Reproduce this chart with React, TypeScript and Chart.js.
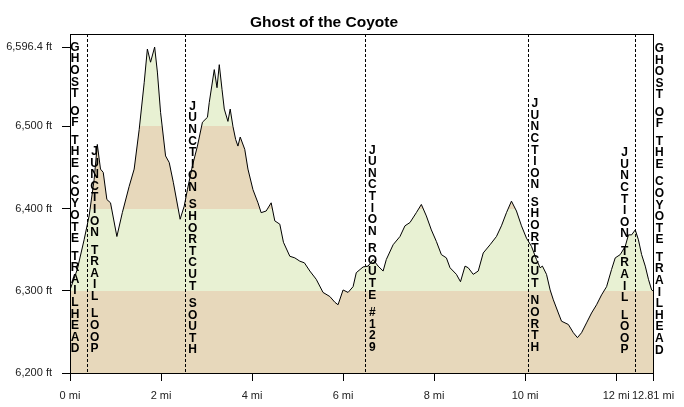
import React, { useEffect, useRef } from "react";
import { Chart, registerables } from "chart.js";
Chart.register(...registerables);

const chartTitle = "Ghost of the Coyote";

const miles = [
  0, 0.16, 0.31, 0.42, 0.53, 0.6, 0.67, 0.73, 0.81, 0.89,
  1.03, 1.15, 1.3, 1.41, 1.52, 1.63, 1.7, 1.77, 1.86, 1.92,
  1.99, 2.1, 2.18, 2.27, 2.42, 2.51, 2.58, 2.69, 2.8, 2.91,
  3.02, 3.06, 3.17, 3.23, 3.28, 3.34, 3.39, 3.47, 3.52, 3.58,
  3.64, 3.69, 3.74, 3.84, 3.91, 4.02, 4.13, 4.2, 4.31, 4.42,
  4.5, 4.61, 4.69, 4.83, 4.94, 5.05, 5.15, 5.27, 5.41, 5.56,
  5.71, 5.82, 5.89, 6.0, 6.11, 6.22, 6.29, 6.44, 6.55, 6.66,
  6.77, 6.88, 6.95, 7.1, 7.25, 7.36, 7.47, 7.61, 7.72, 7.83,
  7.94, 8.05, 8.16, 8.27, 8.35, 8.49, 8.58, 8.68, 8.75, 8.86,
  8.97, 9.08, 9.23, 9.37, 9.48, 9.59, 9.7, 9.81, 9.92, 10.03,
  10.14, 10.25, 10.33, 10.38, 10.47, 10.55, 10.62, 10.73, 10.8, 10.95,
  11.06, 11.15, 11.24, 11.35, 11.46, 11.57, 11.68, 11.79, 11.9, 11.98,
  12.09, 12.2, 12.27, 12.34, 12.42, 12.49, 12.56, 12.64, 12.71, 12.78, 12.81,
];

const elevationFt = [
  6301, 6326, 6362, 6391, 6435, 6478, 6448, 6444, 6411, 6407,
  6366, 6395, 6427, 6448, 6496, 6553, 6594, 6578, 6596.4, 6566,
  6517, 6464, 6456, 6432, 6387, 6403, 6423, 6452, 6476, 6505,
  6511, 6529, 6569, 6547, 6575, 6545, 6521, 6506, 6521, 6500,
  6484, 6476, 6487, 6472, 6448, 6423, 6407, 6395, 6397, 6407,
  6385, 6381, 6359, 6342, 6340, 6336, 6334, 6324, 6314, 6298,
  6293, 6286, 6283, 6301, 6298, 6305, 6322, 6329, 6330, 6338,
  6330, 6324, 6338, 6356, 6366, 6379, 6383, 6395, 6405, 6391,
  6374, 6360, 6344, 6340, 6328, 6320, 6311, 6330, 6328, 6320,
  6324, 6346, 6356, 6366, 6379, 6395, 6409, 6397, 6379, 6364,
  6354, 6338, 6328, 6330, 6320, 6301, 6289, 6273, 6263, 6259,
  6249, 6243, 6249, 6261, 6273, 6283, 6295, 6305, 6326, 6340,
  6344, 6354, 6368, 6368, 6374, 6362, 6344, 6330, 6314, 6301, 6300,
];

const yTickValues = [6200, 6300, 6400, 6500, 6596.4];
const yTickLabels = ["6,200 ft", "6,300 ft", "6,400 ft", "6,500 ft", "6,596.4 ft"];
const xTickValues = [0, 2, 4, 6, 8, 10, 12, 12.81];
const xTickLabels = ["0 mi", "2 mi", "4 mi", "6 mi", "8 mi", "10 mi", "12 mi", "12.81 mi"];

const bandEdges = [6200, 6300, 6400, 6500, 6700];

const markerNames = [
  "GHOST OF THE COYOTE TRAILHEAD",
  "JUNCTION TRAIL LOOP",
  "JUNCTION SHORTCUT SOUTH",
  "JUNCTION ROUTE #129",
  "JUNCTION SHORTCUT NORTH",
  "JUNCTION TRAIL LOOP",
  "GHOST OF THE COYOTE TRAILHEAD",
];
const markerMiles = [0, 0.365, 2.52, 6.49, 10.06, 12.42, 12.81];

// styling for markers (pixel offsets / label baseline)
const markerDashed = [false, true, true, true, true, true, false];
const markerTextDx = [5, 8, 8, 7, 7, -10.7, 6.4];
const markerTextBottom = [349, 348.8, 350, 347.5, 347.5, 350, 350.3];
const LETTER_STEP = 11.6;

const TAN = "#E7D8BB";
const GREEN = "#E8F1D3";
const bandColors = [TAN, GREEN, TAN, GREEN];

const Y_MIN = 6200;
const Y_MAX = 6612.3;

const overlayPlugin = {
  id: "overlay",
  afterDatasetsDraw(chart: any) {
    const { ctx, chartArea, scales } = chart;
    const { left, right, top, bottom } = chartArea;
    ctx.save();
    ctx.strokeStyle = "#000";
    ctx.lineWidth = 1;
    ctx.setLineDash([]);
    ctx.strokeRect(Math.round(left) + 0.5, Math.round(top) + 0.5, Math.round(right - left), Math.round(bottom - top));
    markerNames.forEach((name, i) => {
      const x = scales.x.getPixelForValue(markerMiles[i]);
      if (markerDashed[i]) {
        ctx.beginPath();
        ctx.setLineDash([3, 2]);
        ctx.moveTo(Math.round(x) + 0.5, top);
        ctx.lineTo(Math.round(x) + 0.5, bottom);
        ctx.stroke();
      }
      ctx.setLineDash([]);
      const chars = name.split("");
      const ys: number[] = new Array(chars.length);
      let y = markerTextBottom[i];
      for (let k = chars.length - 1; k >= 0; k--) {
        ys[k] = y;
        const nextIsSpace = k - 1 >= 0 && chars[k - 1] === " ";
        const curIsSpace = chars[k] === " ";
        y -= curIsSpace || nextIsSpace ? LETTER_STEP * 0.75 : LETTER_STEP;
      }
      ctx.fillStyle = "#000";
      ctx.font = "bold 12px Arial, 'Liberation Sans', sans-serif";
      ctx.textAlign = "center";
      ctx.textBaseline = "middle";
      chars.forEach((c: string, k: number) => {
        if (c !== " ") ctx.fillText(c, x + markerTextDx[i], ys[k]);
      });
    });
    ctx.fillStyle = "#000";
    ctx.font = "bold 15.5px Arial, 'Liberation Sans', sans-serif";
    ctx.textAlign = "center";
    ctx.textBaseline = "alphabetic";
    ctx.fillText(chartTitle, 324, 27);
    ctx.restore();
  },
};

export default function App() {
  const ref = useRef<HTMLCanvasElement>(null);
  useEffect(() => {
    const canvas = ref.current!;
    const points = miles.map((m, i) => ({ x: m, y: elevationFt[i] }));
    const chart = new Chart(canvas, {
      type: "line",
      data: {
        datasets: [
          {
            data: points,
            borderColor: "#000",
            borderWidth: 1,
            pointRadius: 0,
            tension: 0,
            fill: "start",
            backgroundColor: (c: any) => {
              const ch = c.chart;
              const ys = ch.scales && ch.scales.y;
              if (!ch.chartArea || !ys) return TAN;
              const p0 = ys.getPixelForValue(bandEdges[0]);
              const p1 = ys.getPixelForValue(bandEdges[bandEdges.length - 1]);
              const g = ch.ctx.createLinearGradient(0, p0, 0, p1);
              for (let b = 0; b < bandColors.length; b++) {
                const f0 = (ys.getPixelForValue(bandEdges[b]) - p0) / (p1 - p0);
                const f1 = (ys.getPixelForValue(bandEdges[b + 1]) - p0) / (p1 - p0);
                g.addColorStop(Math.min(1, Math.max(0, f0)), bandColors[b]);
                g.addColorStop(Math.min(1, Math.max(0, f1 - 0.0001)), bandColors[b]);
              }
              return g;
            },
          },
        ],
      },
      options: {
        responsive: false,
        animation: false,
        events: [],
        layout: { padding: { top: 34, right: 31, left: 0, bottom: 0 } },
        plugins: { legend: { display: false }, tooltip: { enabled: false }, title: { display: false } },
        scales: {
          x: {
            type: "linear",
            min: 0,
            max: 12.81,
            afterBuildTicks: (s: any) => {
              s.ticks = xTickValues.map((v) => ({ value: v }));
            },
            afterFit: (s: any) => {
              s.height = 34;
            },
            ticks: {
              autoSkip: false,
              maxRotation: 0,
              padding: 8,
              color: "#222",
              font: { family: "Arial, 'Liberation Sans', sans-serif", size: 11 },
              callback: (_v: any, i: number) => xTickLabels[i],
            },
            grid: { display: true, drawOnChartArea: false, drawTicks: true, tickLength: 8, color: "#000" },
            border: { display: false },
          },
          y: {
            type: "linear",
            min: Y_MIN,
            max: Y_MAX,
            afterBuildTicks: (s: any) => {
              s.ticks = yTickValues.map((v) => ({ value: v }));
            },
            afterFit: (s: any) => {
              s.width = 70;
            },
            ticks: {
              autoSkip: false,
              padding: 10,
              color: "#222",
              font: { family: "Arial, 'Liberation Sans', sans-serif", size: 11 },
              callback: (_v: any, i: number) => yTickLabels[i],
            },
            grid: { display: true, drawOnChartArea: false, drawTicks: true, tickLength: 8, color: "#000" },
            border: { display: false },
          },
        },
      } as any,
      plugins: [overlayPlugin],
    });
    return () => chart.destroy();
  }, []);
  return (
    <div style={{ position: "fixed", left: 0, top: 0, width: 684, height: 407, background: "#fff" }}>
      <canvas ref={ref} width={684} height={407} style={{ width: 684, height: 407, display: "block" }} />
    </div>
  );
}
